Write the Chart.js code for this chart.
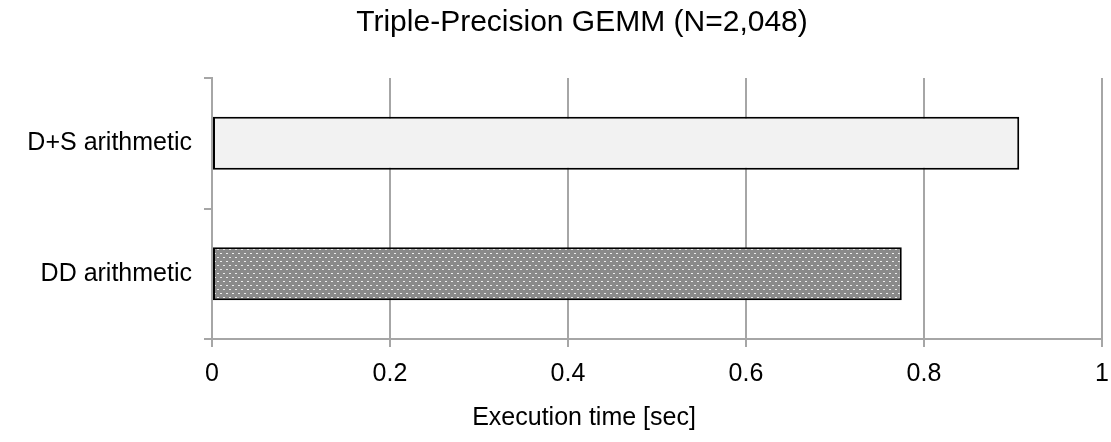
<!DOCTYPE html>
<html lang="en">
<head>
    <meta charset="UTF-8">
    <title>Triple-Precision GEMM</title>
    <script src="https://cdn.jsdelivr.net/npm/chart.js"></script>
    <style>
        body {
            margin: 0;
            background-color: #ffffff;
        }

        .chart-container {
            position: relative;
            width: 1111px;
            height: 442px;
        }
    </style>
</head>
<body>
    <div class="chart-container">
        <canvas id="gemm-chart"></canvas>
    </div>

    <script>
        const categories = ['D+S arithmetic', 'DD arithmetic'];
        const execTimes = [0.907, 0.775];
        const xTicks = [0, 0.2, 0.4, 0.6, 0.8, 1];
        const chartTitle = 'Triple-Precision GEMM (N=2,048)';
        const xAxisTitle = 'Execution time [sec]';

        const fontFamily = '"Liberation Sans", Arial, sans-serif';
        const gridGrey = '#a6a6a6';

        // dotted grey fill for the DD bar
        function makeDotPattern() {
            const tile = document.createElement('canvas');
            tile.width = 6;
            tile.height = 8;
            const c = tile.getContext('2d');
            c.fillStyle = '#8a8a8a';
            c.fillRect(0, 0, 6, 8);
            c.fillStyle = '#ececec';
            c.fillRect(1, 1, 2, 1);
            c.fillRect(4, 5, 2, 1);
            return document.createElement('canvas').getContext('2d').createPattern(tile, 'repeat');
        }

        // titles sit a bit off the plot centre in the original, so draw them by hand
        const titlesPlugin = {
            id: 'titles',
            afterDraw(chart) {
                const c = chart.ctx;
                c.save();
                c.fillStyle = '#000000';
                c.textAlign = 'center';
                c.textBaseline = 'middle';
                c.font = `30px ${fontFamily}`;
                c.fillText(chartTitle, 582, 23);
                c.font = `25px ${fontFamily}`;
                c.fillText(xAxisTitle, 584, 418);
                c.restore();
            }
        };

        Chart.defaults.font.family = fontFamily;
        Chart.defaults.color = '#000000';

        const ctx = document.getElementById('gemm-chart').getContext('2d');
        const gemmChart = new Chart(ctx, {
            type: 'bar',
            data: {
                labels: categories,
                datasets: [{
                    data: execTimes,
                    backgroundColor: ['#f2f2f2', makeDotPattern()],
                    borderColor: '#000000',
                    borderWidth: 2,
                    borderSkipped: false,
                    categoryPercentage: 1,
                    barPercentage: 0.405
                }]
            },
            options: {
                indexAxis: 'y',
                responsive: true,
                maintainAspectRatio: false,
                animation: false,
                layout: {
                    padding: { left: 0, right: 9, top: 78, bottom: 43 }
                },
                scales: {
                    x: {
                        min: 0,
                        max: 1,
                        afterBuildTicks: (scale) => {
                            scale.ticks = xTicks.map(v => ({ value: v }));
                        },
                        afterFit: (scale) => {
                            scale.height = 60;
                            scale.paddingLeft = 0;
                            scale.paddingRight = 0;
                        },
                        ticks: {
                            font: { size: 25 },
                            padding: 12,
                            maxRotation: 0,
                            callback: (v) => String(v)
                        },
                        grid: {
                            color: gridGrey,
                            lineWidth: 2,
                            tickLength: 8
                        },
                        border: { color: gridGrey, width: 2 }
                    },
                    y: {
                        afterFit: (scale) => { scale.width = 212; },
                        ticks: {
                            font: { size: 25 },
                            padding: 12
                        },
                        grid: {
                            offset: true,
                            drawOnChartArea: false,
                            color: gridGrey,
                            lineWidth: 2,
                            tickLength: 8
                        },
                        border: { color: gridGrey, width: 2 }
                    }
                },
                plugins: {
                    legend: { display: false },
                    tooltip: { enabled: false },
                    title: { display: false }
                }
            },
            plugins: [titlesPlugin]
        });
    </script>
</body>
</html>
